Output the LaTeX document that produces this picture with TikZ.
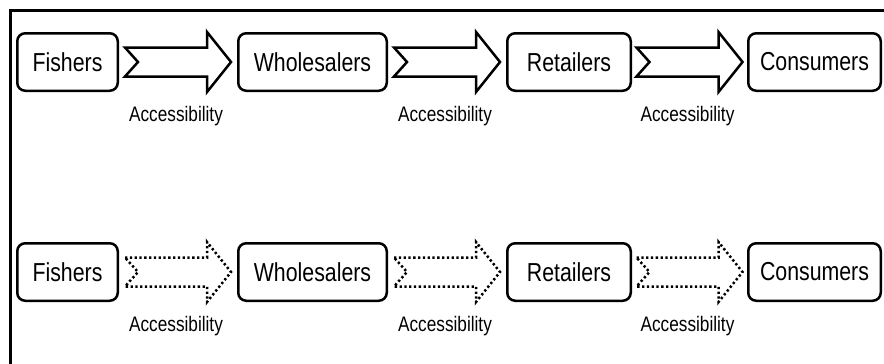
\documentclass[tikz,border=0pt]{standalone}
\usepackage{fontspec}
\usetikzlibrary{calc}
\newfontfamily\chainfont[FakeStretch=0.82]{Liberation Sans}

\tikzset{
  stage/.style={draw,line width=2.5pt,rounded corners=8pt,inner sep=0pt,
    minimum height=57.5pt,font=\chainfont\fontsize{26}{30}\selectfont},
  acclabel/.style={anchor=base,inner sep=0pt,font=\chainfont\fontsize{21}{24}\selectfont},
  solidarrow/.style={line width=2.5pt,line join=miter},
  dottedarrow/.style={line width=2.5pt,dash pattern=on 2.3pt off 2.5pt}
}

% block arrow with notched tail between two stages, label below
\newcommand{\accarrow}[3][]{%
  \coordinate (#2-#3) at ($(#2.east)!0.5!(#3.west)$);
  \draw[#1] ($(#2-#3)+(-53,-14.5)$) -- ($(#2-#3)+(29,-14.5)$) -- ($(#2-#3)+(29,-30)$)
    -- ($(#2-#3)+(53,0)$) -- ($(#2-#3)+(29,30)$) -- ($(#2-#3)+(29,14.5)$)
    -- ($(#2-#3)+(-53,14.5)$) -- ($(#2-#3)+(-40,0)$) -- cycle;
  \node[acclabel] (#2-#3-lab) at ($(#2-#3)+(-2,59)$) {Accessibility};}

\begin{document}
\begin{tikzpicture}[x=1pt,y=-1pt]
  \useasboundingbox (0,0) rectangle (884,364);
  \draw[line width=3pt] (10.5,364) -- (10.5,10.5) -- (884,10.5);

  % top row
  \node[stage,minimum width=100.5] (fish1) at (67.5,62) {Fishers};
  \node[stage,minimum width=148.5] (whole1) at (312.5,62) {Wholesalers};
  \node[stage,minimum width=123.5] (retail1) at (569,62) {Retailers};
  \node[stage,minimum width=132.5] (cons1) at (814.5,62) {Consumers};
  \accarrow[solidarrow]{fish1}{whole1}
  \accarrow[solidarrow]{whole1}{retail1}
  \accarrow[solidarrow]{retail1}{cons1}

  % bottom row
  \node[stage,minimum width=100.5] (fish2) at (67.5,272) {Fishers};
  \node[stage,minimum width=148.5] (whole2) at (312.5,272) {Wholesalers};
  \node[stage,minimum width=123.5] (retail2) at (569,272) {Retailers};
  \node[stage,minimum width=132.5] (cons2) at (814.5,272) {Consumers};
  \accarrow[dottedarrow]{fish2}{whole2}
  \accarrow[dottedarrow]{whole2}{retail2}
  \accarrow[dottedarrow]{retail2}{cons2}
\end{tikzpicture}
\end{document}
